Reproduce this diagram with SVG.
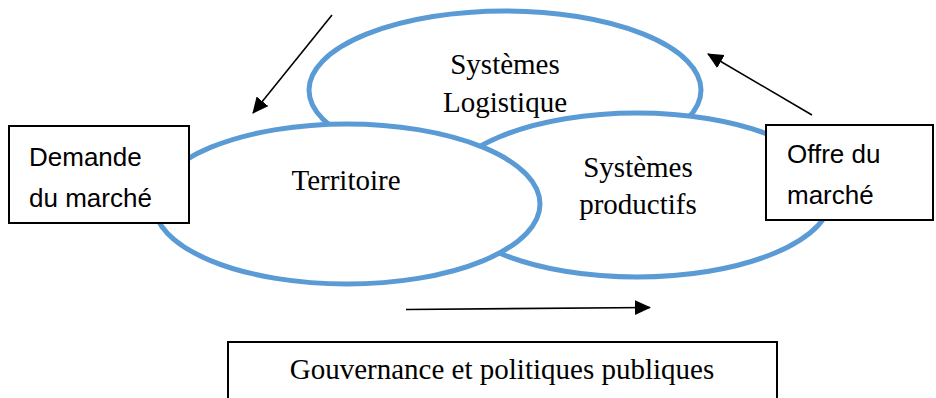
<svg xmlns="http://www.w3.org/2000/svg" width="936" height="398" viewBox="0 0 936 398">
<defs>
<marker id="ah" markerWidth="16" markerHeight="16" refX="15" refY="7.5" orient="auto" markerUnits="userSpaceOnUse">
<path d="M0,0 L16,7.5 L0,15 Z" fill="#000"/>
</marker>
</defs>
<style>
.ell{fill:#fff;stroke:#5B9BD5;stroke-width:5}
.box{fill:#fff;stroke:#000;stroke-width:2}
.serif{font-family:"Liberation Serif","Times New Roman",serif;font-size:29px;fill:#000;text-anchor:middle}
.sans{font-family:"Liberation Sans",Arial,sans-serif;font-size:26px;fill:#000}
.conn{stroke:#000;stroke-width:1.6;fill:none;marker-end:url(#ah)}
</style>
<rect width="936" height="398" fill="#fff"/>
<g id="logistique">
<ellipse class="ell" cx="505" cy="90" rx="196" ry="79"/>
<text class="serif" x="505" y="74">Systèmes</text>
<text class="serif" x="505" y="112">Logistique</text>
</g>
<g id="productifs">
<ellipse class="ell" cx="637" cy="195" rx="195" ry="82"/>
<text class="serif" x="638" y="177">Systèmes</text>
<text class="serif" x="638" y="214">productifs</text>
</g>
<g id="territoire">
<ellipse class="ell" cx="347" cy="204" rx="193" ry="80"/>
<text class="serif" x="346" y="190">Territoire</text>
</g>
<g id="demande">
<rect class="box" x="9" y="126" width="180" height="97"/>
<text class="sans" x="29" y="166">Demande</text>
<text class="sans" x="29" y="207">du marché</text>
</g>
<g id="offre">
<rect class="box" x="766" y="125" width="167" height="95"/>
<text class="sans" x="787" y="163">Offre du</text>
<text class="sans" x="787" y="204">marché</text>
</g>
<g id="gouvernance">
<rect class="box" x="228" y="342" width="549" height="70"/>
<text class="serif" x="502" y="379">Gouvernance et politiques publiques</text>
</g>
<g id="connectors">
<line class="conn" x1="332" y1="15" x2="253" y2="113"/>
<line class="conn" x1="812" y1="115" x2="708" y2="54"/>
<line class="conn" x1="406" y1="309.5" x2="650" y2="307.5"/>
</g>
</svg>
